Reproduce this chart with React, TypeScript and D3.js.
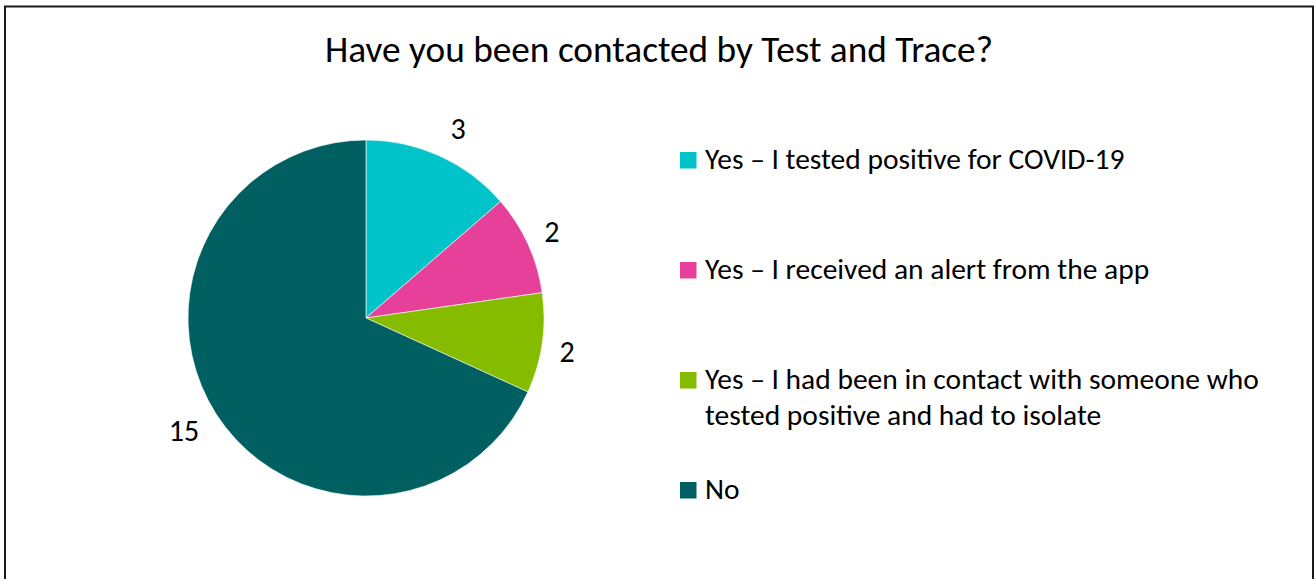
import React from "react";
import * as d3 from "d3";

const categories = [
  "Yes – I tested positive for COVID-19",
  "Yes – I received an alert from the app",
  "Yes – I had been in contact with someone who tested positive and had to isolate",
  "No",
];
const legendLines = [
  ["Yes – I tested positive for COVID-19"],
  ["Yes – I received an alert from the app"],
  ["Yes – I had been in contact with someone who", "tested positive and had to isolate"],
  ["No"],
];
const values = [3, 2, 2, 15];
const colors = ["#00C4C9", "#E6409A", "#86BC00", "#005F60"];
const labelRadius = [210, 205, 204, 214];
const labelAngleShift = [1.5, -0.4, 1.4, 1];
const title = "Have you been contacted by Test and Trace?";

const W = 1314;
const H = 579;
const FONT = "Carlito, Calibri, 'Open Sans', sans-serif";

export default function App() {
  const cx = 366;
  const cy = 318;
  const r = 178;
  const pie = d3.pie<number>().sort(null).value((d) => d)(values);
  const arc = d3.arc<d3.PieArcDatum<number>>().innerRadius(0).outerRadius(r);
  const legendTop = [152, 262, 372, 482];
  return (
    <svg
      width={W}
      height={H}
      style={{ position: "absolute", left: 0, top: 0, background: "#fff" }}
      fontFamily={FONT}
    >
      <rect x={5} y={6.5} width={1308} height={580} fill="#fff" stroke="#1a1a1a" strokeWidth={2} />
      <text x={659} y={62} textAnchor="middle" fontSize={37.3} fill="#000">
        {title}
      </text>
      <g transform={`translate(${cx},${cy})`}>
        {pie.map((p, i) => (
          <path key={i} d={arc(p) || ""} fill={colors[i]} stroke="#fff" strokeWidth={0.6} />
        ))}
        {pie.map((p, i) => {
          const a = (p.startAngle + p.endAngle) / 2 + (labelAngleShift[i] * Math.PI) / 180;
          const R = labelRadius[i];
          return (
            <text
              key={i}
              x={Math.sin(a) * R}
              y={-Math.cos(a) * R + 10}
              textAnchor="middle"
              fontSize={30}
              fill="#000"
            >
              {values[i]}
            </text>
          );
        })}
      </g>
      {categories.map((c, i) => (
        <g key={c} transform={`translate(680,${legendTop[i]})`}>
          <rect x={0} y={0} width={16.5} height={16.5} fill={colors[i]} />
          {legendLines[i].map((line, j) => (
            <text key={j} x={25} y={17 + j * 36} fontSize={29.5} fill="#000">
              {line}
            </text>
          ))}
        </g>
      ))}
    </svg>
  );
}
